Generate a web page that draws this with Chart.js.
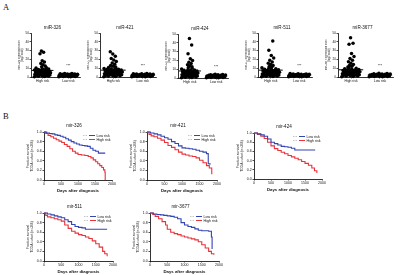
<!DOCTYPE html>
<html>
<head>
<meta charset="utf-8">
<script src="https://cdn.jsdelivr.net/npm/chart.js@4.4.1/dist/chart.umd.min.js"></script>
<style>
  html, body { margin: 0; padding: 0; background: #fff; }
  #fig { position: relative; width: 400px; height: 275px; overflow: hidden; }
  .lab { position: absolute; font: 8.5px "Liberation Serif", "Times New Roman", serif; line-height: 1; color: #111; }
</style>
</head>
<body>
<div id="fig">
  <div class="lab" style="left:3px;top:3px">A</div>
  <div class="lab" style="left:3px;top:112px">B</div>
</div>
<script>
// ---- Panel A: expression dot plots ----
const dotTitles = ['miR-326', 'miR-421', 'miR-424', 'miR-511', 'miR-3677'];
const groups = ['High risk', 'Low risk'];
const dotTicks = [0, 10, 20, 30, 40, 50];

const high326 = [0.3,0.6,0.9,1.1,1.3,1.6,1.8,2.0,2.2,2.4,2.6,2.8,3.0,3.2,3.4,3.6,3.8,4.0,4.2,4.4,4.6,4.8,5.0,5.2,5.4,5.6,5.8,6.0,6.2,6.4,6.7,7.0,7.3,7.6,7.9,8.2,8.6,9.0,9.5,10.1,10.8,11.6,12.6,13.8,15.4,17.0,18.6,26.4,28.0,29.6];
const low326 = [0.2,0.4,0.5,0.7,0.8,1.0,1.1,1.2,1.4,1.5,1.6,1.8,1.9,2.0,2.1,2.2,2.4,2.5,2.6,2.7,2.9,3.0,3.1,3.2,3.4,3.5,3.7,3.9,4.1];
const high421 = [0.4,0.7,1.0,1.3,1.5,1.8,2.0,2.3,2.5,2.8,3.0,3.3,3.5,3.8,4.0,4.2,4.5,4.7,5.0,5.2,5.5,5.7,6.0,6.2,6.5,6.7,7.0,7.3,7.6,7.9,8.2,8.5,8.9,9.3,9.7,10.2,10.8,11.5,12.3,13.2,14.5,16.0,17.5,19.2,21.0,23.5,26.0,28.8];
const low421 = [0.2,0.3,0.5,0.6,0.8,0.9,1.1,1.2,1.3,1.5,1.6,1.7,1.9,2.0,2.1,2.3,2.4,2.5,2.7,2.8,2.9,3.1,3.2,3.3,3.5,3.6,3.8,4.0];
const high424 = [0.3,0.6,0.8,1.1,1.4,1.6,1.9,2.1,2.4,2.6,2.9,3.1,3.4,3.6,3.9,4.1,4.4,4.6,4.9,5.1,5.4,5.6,5.9,6.2,6.5,6.8,7.1,7.4,7.7,8.0,8.4,8.8,9.2,9.7,10.3,11.0,11.8,12.7,13.8,15.0,16.4,18.0,19.8,22.0,27.5,37.5,45.0];
const low424 = [0.2,0.4,0.5,0.7,0.9,1.0,1.2,1.3,1.5,1.6,1.8,1.9,2.1,2.2,2.4,2.5,2.7,2.8,3.0,3.1,3.3,3.4,3.6,3.8,4.0,4.3];
const high511 = [0.3,0.5,0.8,1.0,1.3,1.5,1.8,2.0,2.3,2.5,2.8,3.0,3.3,3.5,3.8,4.0,4.3,4.5,4.8,5.0,5.3,5.5,5.8,6.1,6.4,6.7,7.0,7.3,7.7,8.1,8.5,8.9,9.4,9.9,10.5,11.2,12.0,13.0,14.2,15.5,17.0,19.0,21.5,24.5,30.5,41.0];
const low511 = [0.2,0.3,0.5,0.6,0.8,0.9,1.0,1.2,1.3,1.4,1.6,1.7,1.8,2.0,2.1,2.2,2.4,2.5,2.6,2.8,2.9,3.0,3.2,3.3,3.5,3.7,3.9];
const high3677 = [0.4,0.7,1.0,1.2,1.5,1.7,2.0,2.2,2.5,2.7,3.0,3.2,3.5,3.7,4.0,4.2,4.5,4.7,5.0,5.3,5.6,5.9,6.2,6.5,6.8,7.1,7.4,7.8,8.2,8.6,9.0,9.5,10.0,10.6,11.3,12.1,13.0,14.2,15.6,17.2,19.0,21.0,23.2,26.8,37.2,38.4,44.7];
const low3677 = [0.2,0.4,0.5,0.7,0.8,1.0,1.1,1.3,1.4,1.6,1.7,1.9,2.0,2.2,2.3,2.5,2.6,2.8,2.9,3.1,3.2,3.4,3.5,3.7,3.9,4.2];

const highMeans = [7.5, 7.8, 8.0, 7.8, 8.2];
const lowMeans = [2.2, 2.2, 2.3, 2.1, 2.3];
const sigLabel = '***';
const sigY = [13, 13, 13, 13, 13];

// ---- Panel B: Kaplan-Meier curves (days, fraction survival) ----
const kmTitles = ['mir-326', 'mir-421', 'mir-424', 'mir-511', 'mir-3677'];
const kmLabels = ['Low risk', 'High risk'];
const dayTicks = [0, 500, 1000, 1500, 2000];

const t326Low = [0,80,160,240,320,400,480,560,640,720,800,880,960,1040,1120,1200,1280,1360,1440,1520,1600,1700,1800];
const s326Low = [1,0.98,0.97,0.96,0.94,0.93,0.91,0.89,0.86,0.83,0.80,0.77,0.75,0.73,0.72,0.71,0.70,0.66,0.62,0.60,0.56,0.56,0.56];
const t326High = [0,50,120,200,280,360,440,520,600,680,760,840,920,1000,1100,1200,1300,1380,1450,1520,1580,1640,1700,1750,1790,1800];
const s326High = [1,0.97,0.93,0.90,0.87,0.84,0.81,0.78,0.74,0.70,0.65,0.60,0.56,0.53,0.52,0.51,0.49,0.46,0.42,0.38,0.34,0.30,0.26,0.21,0.16,0];

const t421Low = [0,100,200,300,400,500,600,700,800,900,1000,1100,1200,1300,1400,1500,1600,1700,1750,1800];
const s421Low = [1,0.98,0.96,0.94,0.91,0.88,0.85,0.80,0.76,0.71,0.67,0.66,0.65,0.64,0.62,0.60,0.58,0.55,0.34,0.32];
const t421High = [0,60,120,200,300,400,500,600,700,800,900,1000,1100,1200,1300,1400,1500,1600,1700,1780,1850];
const s421High = [1,0.95,0.92,0.90,0.87,0.83,0.78,0.72,0.68,0.63,0.58,0.54,0.52,0.50,0.49,0.46,0.41,0.36,0.30,0.25,0.12];

const t424Low = [0,100,200,300,400,500,600,700,800,900,1000,1100,1200,1300,1500,1700,1800];
const s424Low = [1,0.98,0.96,0.93,0.87,0.80,0.77,0.74,0.71,0.70,0.69,0.67,0.63,0.63,0.63,0.63,0.63];
const t424High = [0,100,200,300,400,500,600,700,800,900,1000,1100,1200,1300,1400,1500,1600,1700,1780,1850];
const s424High = [1,0.97,0.93,0.88,0.80,0.72,0.66,0.62,0.58,0.55,0.51,0.48,0.45,0.42,0.38,0.34,0.30,0.24,0.18,0.13];

const t511Low = [0,100,200,300,400,500,600,700,800,900,1000,1100,1200,1400,1600,1830];
const s511Low = [1,0.98,0.96,0.94,0.92,0.90,0.86,0.82,0.76,0.72,0.70,0.69,0.66,0.66,0.66,0.66];
const t511High = [0,50,100,200,300,400,500,600,700,800,900,1000,1100,1200,1300,1400,1500,1600,1700,1760,1830];
const s511High = [1,0.95,0.92,0.90,0.88,0.86,0.83,0.75,0.68,0.62,0.58,0.55,0.53,0.50,0.47,0.42,0.36,0.29,0.20,0.15,0.10];

const t3677Low = [0,100,200,300,400,500,600,700,800,900,1000,1100,1200,1300,1400,1500,1600,1700,1780,1800];
const s3677Low = [1,0.98,0.97,0.96,0.95,0.94,0.93,0.91,0.88,0.80,0.75,0.72,0.70,0.67,0.64,0.63,0.63,0.62,0.50,0.25];
const t3677High = [0,80,150,250,350,450,500,600,700,800,900,1000,1100,1200,1300,1400,1500,1600,1700,1780,1850];
const s3677High = [1,0.97,0.93,0.88,0.82,0.75,0.66,0.60,0.57,0.55,0.52,0.50,0.48,0.46,0.44,0.40,0.34,0.27,0.20,0.15,0.13];

const blue = '#3345b0';
const red = '#e8333a';
const FONT = '"Liberation Sans", Arial, sans-serif';

Chart.defaults.font.family = FONT;
Chart.defaults.color = '#111';

// titles, legend and significance stars drawn relative to the chart area
const panelText = {
  id: 'panelText',
  afterDraw(chart, args, o) {
    const { ctx, chartArea: a } = chart;
    ctx.save();
    ctx.fillStyle = '#111';
    ctx.textAlign = 'center';
    ctx.textBaseline = 'middle';
    ctx.font = `${o.size}px ${FONT}`;
    ctx.fillText(o.title, (a.left + a.right) / 2 + o.dx, a.top - o.dy);

    if (o.legend) {
      ctx.font = `3.6px ${FONT}`;
      ctx.textAlign = 'left';
      chart.data.datasets.forEach((ds, k) => {
        const y = a.top + 3.5 + k * 4;
        const x0 = a.right - 29;
        ctx.strokeStyle = '#999';
        ctx.lineWidth = 0.7;
        ctx.setLineDash([0.8, 0.8]);
        ctx.beginPath(); ctx.moveTo(x0, y); ctx.lineTo(x0 + 4, y); ctx.stroke();
        ctx.setLineDash([]);
        ctx.strokeStyle = ds.borderColor;
        ctx.lineWidth = 1;
        ctx.beginPath(); ctx.moveTo(x0 + 6, y); ctx.lineTo(x0 + 12, y); ctx.stroke();
        ctx.fillStyle = '#111';
        ctx.fillText(ds.label, x0 + 13.5, y);
      });
    }

    if (o.sig) {
      const x = chart.scales.x.getPixelForValue(1);
      const y = chart.scales.y.getPixelForValue(o.sigY);
      ctx.font = `3.5px ${FONT}`;
      ctx.textAlign = 'center';
      ctx.fillText(o.sig, x, y);
    }
    ctx.restore();
  }
};

function makeCanvas(area, yw, xh, pad) {
  const left = area[0] - yw - pad.left;
  const top = area[2] - pad.top;
  const width = area[1] + pad.right - left;
  const height = area[3] + xh + pad.bottom - top;
  const c = document.createElement('canvas');
  c.width = width;
  c.height = height;
  c.style.cssText = `position:absolute;left:${left}px;top:${top}px;width:${width}px;height:${height}px`;
  document.getElementById('fig').appendChild(c);
  return c;
}

// spread the points of one group sideways so they form a column
function spread(vals, center, width) {
  return vals.map((v, i) => {
    const w = v > 11 ? width * 0.35 : width;
    return { x: center + (((i * 0.618034) % 1) - 0.5) * w, y: v };
  });
}

function dotChart(k, high, low, area) {
  const yw = 13, xh = 8;
  const pad = { left: 0, right: 2, top: 9, bottom: 1 };
  const canvas = makeCanvas(area, yw, xh, pad);
  const pt = { backgroundColor: '#000', borderWidth: 0, pointRadius: 1.75, clip: 3 };
  const meanLine = (c, m) => ({
    data: [{ x: c - 0.42, y: m }, { x: c + 0.42, y: m }],
    showLine: true, borderColor: '#000', borderWidth: 1, pointRadius: 0
  });
  new Chart(canvas, {
    type: 'scatter',
    data: {
      datasets: [
        { data: spread(high, 0, 0.64), ...pt },
        { data: spread(low, 1, 0.74), ...pt },
        meanLine(0, highMeans[k]),
        meanLine(1, lowMeans[k])
      ]
    },
    options: {
      responsive: false,
      animation: false,
      layout: { padding: pad },
      plugins: {
        legend: { display: false },
        tooltip: { enabled: false },
        panelText: { title: dotTitles[k], size: 4.6, dx: -3, dy: 5, sig: sigLabel, sigY: sigY[k] }
      },
      scales: {
        x: {
          type: 'linear', min: -0.45, max: 1.45,
          afterBuildTicks: s => { s.ticks = [0, 1].map(v => ({ value: v })); },
          ticks: { callback: v => groups[v], font: { size: 3.4 }, padding: 0.5, maxRotation: 0, autoSkip: false, color: '#111' },
          grid: { drawOnChartArea: false, tickLength: 1.5, color: '#000', lineWidth: 0.7 },
          border: { color: '#000', width: 0.8 },
          afterFit: s => { s.height = xh; s.paddingLeft = 0; s.paddingRight = 0; }
        },
        y: {
          min: 0, max: 50,
          afterBuildTicks: s => { s.ticks = dotTicks.map(v => ({ value: v })); },
          ticks: { font: { size: 3.2 }, padding: 0.5, color: '#111' },
          title: { display: true, text: [dotTitles[k] + ' expression level', '(log2 scale)'], font: { size: 2.6 }, padding: 0, color: '#222' },
          grid: { drawOnChartArea: false, tickLength: 1.5, color: '#000', lineWidth: 0.7 },
          border: { color: '#000', width: 0.8 },
          afterFit: s => { s.width = yw; s.paddingTop = 0; s.paddingBottom = 0; }
        }
      }
    },
    plugins: [panelText]
  });
}

function zip(t, s) {
  return t.map((d, i) => ({ x: d, y: s[i] }));
}

function kmChart(k, lowT, lowS, highT, highS, area) {
  const yw = 18, xh = 14;
  const pad = { left: 0, right: 5, top: 9, bottom: 1 };
  const canvas = makeCanvas(area, yw, xh, pad);
  const line = { stepped: true, pointRadius: 0, borderWidth: 1.1, fill: false, clip: 2 };
  new Chart(canvas, {
    type: 'line',
    data: {
      datasets: [
        { label: kmLabels[0], data: zip(lowT, lowS), borderColor: blue, ...line },
        { label: kmLabels[1], data: zip(highT, highS), borderColor: red, ...line }
      ]
    },
    options: {
      responsive: false,
      animation: false,
      layout: { padding: pad },
      plugins: {
        legend: { display: false },
        tooltip: { enabled: false },
        panelText: { title: kmTitles[k], size: 4.6, dx: -4, dy: 6, legend: true }
      },
      scales: {
        x: {
          type: 'linear', min: 0, max: 2000,
          afterBuildTicks: s => { s.ticks = dayTicks.map(v => ({ value: v })); },
          ticks: { callback: v => String(v), font: { size: 3.5 }, padding: 0.5, maxRotation: 0, color: '#111' },
          title: { display: true, text: 'Days after diagnosis', font: { size: 4.3, weight: 'bold' }, padding: { top: 0, bottom: 1 }, color: '#111' },
          grid: { drawOnChartArea: false, tickLength: 1.5, color: '#000', lineWidth: 0.7 },
          border: { color: '#000', width: 0.8 },
          afterFit: s => { s.height = xh; s.paddingLeft = 0; s.paddingRight = 0; }
        },
        y: {
          min: 0, max: 1,
          ticks: { stepSize: 0.2, callback: v => v.toFixed(1), font: { size: 3.5 }, padding: 0.8, color: '#111' },
          title: { display: true, text: ['Fraction survival', 'TCGA cohort (n=366)'], font: { size: 3.3 }, padding: 0, color: '#222' },
          grid: { drawOnChartArea: false, tickLength: 1.5, color: '#000', lineWidth: 0.7 },
          border: { color: '#000', width: 0.8 },
          afterFit: s => { s.width = yw; s.paddingTop = 0; s.paddingBottom = 0; }
        }
      }
    },
    plugins: [panelText]
  });
}

// chart areas: [left, right, top, bottom] in page pixels
dotChart(0, high326, low326, [31, 82, 33, 77]);
dotChart(1, high421, low421, [100, 158, 33, 77]);
dotChart(2, high424, low424, [178, 230, 34, 78]);
dotChart(3, high511, low511, [258, 314, 33, 77]);
dotChart(4, high3677, low3677, [338, 395, 33, 77]);

kmChart(0, t326Low, s326Low, t326High, s326High, [44, 112, 132, 180]);
kmChart(1, t421Low, s421Low, t421High, s421High, [147, 217, 132, 180]);
kmChart(2, t424Low, s424Low, t424High, s424High, [254, 322, 133, 179]);
kmChart(3, t511Low, s511Low, t511High, s511High, [44, 113, 213, 261]);
kmChart(4, t3677Low, s3677Low, t3677High, s3677High, [150, 219, 213, 261]);
</script>
</body>
</html>
